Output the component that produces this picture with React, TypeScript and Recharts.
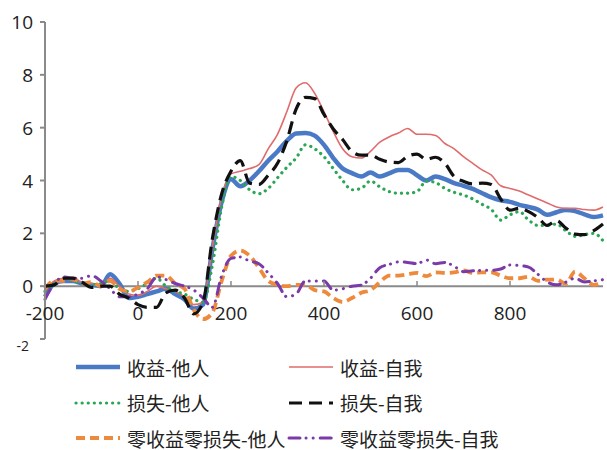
import { LineChart, Line, XAxis, YAxis, ReferenceLine } from "recharts";

// time points in ms
const times = [
  -200, -180, -160, -140, -120, -100, -80, -60, -40, -20, 0, 20, 40, 60, 80, 100, 120, 140, 160, 180,
  200, 220, 240, 260, 280, 300, 320, 340, 360, 380, 400, 420, 440, 460, 480, 500, 520, 540, 560, 580,
  600, 620, 640, 660, 680, 700, 720, 740, 760, 780, 800, 820, 840, 860, 880, 900, 920, 940, 960, 980, 1000,
];

// 收益-他人
const gainOther = [
  -0.4, 0.1, 0.2, 0.2, 0.1, 0.05, 0.0, 0.45, 0.1, -0.45, -0.4, -0.3, -0.2, -0.1, -0.3, -0.5, -0.85, -0.7, 1.4,
  3.2, 4.05, 3.78, 4.0, 4.35, 4.75, 5.1, 5.5, 5.78, 5.8, 5.7, 5.35, 4.85, 4.45, 4.28, 4.15, 4.3, 4.15, 4.27, 4.4,
  4.4, 4.2, 4.0, 4.15, 4.05, 3.9, 3.8, 3.68, 3.52, 3.36, 3.25, 3.19, 3.08, 3.0, 2.9, 2.7, 2.8, 2.88, 2.84, 2.72,
  2.62, 2.68,
];
// 收益-自我
const gainSelf = [
  -0.2, 0.2, 0.3, 0.2, 0.15, 0.1, 0.05, 0.3, 0.0, -0.3, -0.35, -0.2, 0.0, -0.1, -0.2, -0.4, -0.7, -0.6, 1.5,
  3.4, 4.25, 4.35, 4.45, 4.6, 5.2, 5.75, 6.6, 7.5, 7.7, 7.3, 6.6, 5.85, 5.2, 4.9, 4.85, 5.1, 5.45, 5.65, 5.8,
  5.97, 5.75, 5.75, 5.7, 5.4, 5.2, 4.9, 4.65, 4.4, 4.2, 3.8, 3.7, 3.6, 3.45, 3.3, 3.15, 3.0, 2.95, 2.95, 2.9,
  2.88, 3.0,
];
// 损失-他人
const lossOther = [
  -0.2, 0.1, 0.3, 0.2, 0.1, 0.05, 0.1, 0.2, -0.1, -0.2, -0.1, 0.1, 0.3, 0.0, -0.2, -0.3, -0.5, -0.6, 0.8,
  3.0, 4.15, 4.0, 3.65, 3.5, 3.7, 4.1, 4.5, 4.85, 5.35, 5.2, 4.9, 4.45, 4.0, 3.65, 3.7, 3.98, 3.76, 3.58, 3.52,
  3.52, 3.58, 3.98, 3.92, 3.7, 3.55, 3.45, 3.3, 3.1, 2.9, 2.5, 2.7, 2.82, 2.5, 2.3, 2.3, 2.35, 2.1, 1.88, 1.95,
  2.0, 1.72,
];
// 损失-自我
const lossSelf = [
  0.0, 0.05, 0.3, 0.3, 0.15, -0.05, 0.0, 0.0, -0.3, -0.45, -0.7, -0.8, -0.8, -0.25, -0.15, -0.45, -1.05, -0.6, 1.8,
  3.5, 4.35, 4.75, 3.9, 3.85, 4.2, 4.65, 5.5, 6.7, 7.15, 7.1, 6.5, 5.95, 5.55, 5.1, 4.96, 4.96, 4.8, 4.7, 4.68,
  4.92, 5.0, 4.8, 4.88, 4.65, 4.15, 3.97, 3.87, 3.9, 3.85, 3.3, 2.88, 2.95, 2.82, 2.6, 2.3, 2.48, 2.2, 1.97, 1.95,
  2.1, 2.35,
];
// 零收益零损失-他人
const neutralOther = [
  -0.1, 0.2, 0.2, 0.3, 0.1, 0.15, 0.0, 0.2, -0.1, -0.2, -0.05, 0.15, 0.4, 0.4, 0.1, -0.1, -0.9, -1.25, -1.0, 0.2,
  1.15, 1.35, 1.15, 0.7, 0.2, 0.05, 0.0, 0.05, 0.05, -0.15, -0.2, -0.45, -0.6, -0.45, -0.25, -0.15, 0.15, 0.4,
  0.4, 0.45, 0.5, 0.38, 0.52, 0.5, 0.52, 0.6, 0.5, 0.52, 0.52, 0.4, 0.3, 0.3, 0.36, 0.2, 0.25, 0.25, 0.1, 0.55,
  0.3, 0.05, 0.16,
];
// 零收益零损失-自我
const neutralSelf = [
  -0.5, 0.1, 0.35, 0.3, 0.3, 0.4, 0.2, -0.1, -0.4, -0.4, -0.3, -0.1, 0.35, 0.25, 0.1, 0.0, -0.15, -0.45, -0.8, 0.4,
  1.05, 1.1, 0.95, 0.85, 0.5, 0.1, -0.4, -0.3, 0.2, 0.2, 0.2, -0.15, -0.1, 0.0, 0.04, 0.3, 0.7, 0.82, 0.92,
  0.9, 0.85, 0.99, 0.85, 0.9, 0.75, 0.55, 0.58, 0.6, 0.6, 0.65, 0.8, 0.78, 0.72, 0.45, 0.16, 0.05, 0.15, 0.3,
  0.16, 0.2, 0.25,
];

const xTicks = [-200, 0, 200, 400, 600, 800];
const yTicks = [-2, 0, 2, 4, 6, 8, 10];

const AXIS = "#8a8a8a";
const NUM_FONT = "'Open Sans', sans-serif";
const CJK_FONT = "'Noto Sans CJK SC', sans-serif";

const SERIES = [
  { key: "gainOther", name: "收益-他人", color: "#4a7ac6", width: 4.5, dash: undefined as string | undefined, cap: "butt" },
  { key: "gainSelf", name: "收益-自我", color: "#e06b6b", width: 1.6, dash: undefined, cap: "butt" },
  { key: "lossOther", name: "损失-他人", color: "#2aa655", width: 3.2, dash: "0.1 6", cap: "round" },
  { key: "neutralOther", name: "零收益零损失-他人", color: "#ee8a3c", width: 3.8, dash: "9 5", cap: "butt" },
  { key: "neutralSelf", name: "零收益零损失-自我", color: "#7a3aa8", width: 3, dash: "11 6 0.1 7 0.1 7", cap: "round" },
  { key: "lossSelf", name: "损失-自我", color: "#111111", width: 3.2, dash: "13 7", cap: "butt" },
];

const LEGEND_ORDER = [
  ["gainOther", "gainSelf"],
  ["lossOther", "lossSelf"],
  ["neutralOther", "neutralSelf"],
];

const data = times.map((t, i) => ({
  t,
  gainOther: gainOther[i],
  gainSelf: gainSelf[i],
  lossOther: lossOther[i],
  lossSelf: lossSelf[i],
  neutralOther: neutralOther[i],
  neutralSelf: neutralSelf[i],
}));

function YTick({ x, y, payload }: any) {
  const small = payload.value === -2;
  return (
    <text
      x={small ? x - 4 : x}
      y={y}
      dy={small ? 12 : 7}
      textAnchor="end"
      fontSize={small ? 14 : 19}
      fontFamily={NUM_FONT}
      fill="#222"
    >
      {payload.value}
    </text>
  );
}

function XTick({ x, y, payload }: any) {
  // labels sit just under the zero line, tick marks point up from it
  return (
    <g>
      <line x1={x} x2={x} y1={y - 58} y2={y - 53} stroke={AXIS} strokeWidth={1.5} />
      <text x={x} y={y - 19} textAnchor="middle" fontSize={19} fontFamily={NUM_FONT} fill="#222">
        {payload.value}
      </text>
    </g>
  );
}

function Swatch({ s }: { s: (typeof SERIES)[number] }) {
  return (
    <svg width={48} height={12} style={{ display: "block" }}>
      <line
        x1={2}
        x2={46}
        y1={6}
        y2={6}
        stroke={s.color}
        strokeWidth={s.width}
        strokeDasharray={s.dash}
        strokeLinecap={s.cap as any}
      />
    </svg>
  );
}

function ChartLegend() {
  const byKey = Object.fromEntries(SERIES.map((s) => [s.key, s]));
  return (
    <div style={{ position: "absolute", left: 0, top: 352, width: 607, fontFamily: CJK_FONT, fontSize: 19, color: "#222" }}>
      {LEGEND_ORDER.map((row, r) => (
        <div key={r} style={{ position: "relative", height: 35.5 }}>
          {row.map((k, c) => {
            const s = byKey[k];
            const left = c === 0 ? 74 : 287;
            return (
              <div
                key={k}
                style={{ position: "absolute", left, top: 0, display: "flex", alignItems: "center", height: 30, whiteSpace: "nowrap" }}
              >
                <Swatch s={s} />
                <span style={{ marginLeft: 5 }}>{s.name}</span>
              </div>
            );
          })}
        </div>
      ))}
    </div>
  );
}

export default function App() {
  return (
    <div style={{ position: "absolute", left: 0, top: 0, width: 607, height: 450, background: "#fff" }}>
      <LineChart width={607} height={450} data={data} margin={{ top: 22, right: 4, left: 0, bottom: 81 }}>
        <XAxis
          dataKey="t"
          type="number"
          domain={[-200, 1000]}
          ticks={xTicks}
          axisLine={false}
          tickLine={false}
          tickSize={0}
          tickMargin={0}
          height={30}
          tick={<XTick />}
          interval={0}
        />
        <YAxis
          type="number"
          domain={[-2, 10]}
          ticks={yTicks}
          width={45}
          axisLine={{ stroke: AXIS, strokeWidth: 2 }}
          tickLine={{ stroke: AXIS, strokeWidth: 2 }}
          tickSize={5}
          tickMargin={7}
          tick={<YTick />}
          interval={0}
        />
        <ReferenceLine y={0} stroke={AXIS} strokeWidth={2} />
        {SERIES.map((s) => (
          <Line
            key={s.key}
            dataKey={s.key}
            name={s.name}
            type="monotone"
            stroke={s.color}
            strokeWidth={s.width}
            strokeDasharray={s.dash}
            strokeLinecap={s.cap as any}
            dot={false}
            activeDot={false}
            isAnimationActive={false}
          />
        ))}
      </LineChart>
      <ChartLegend />
    </div>
  );
}
